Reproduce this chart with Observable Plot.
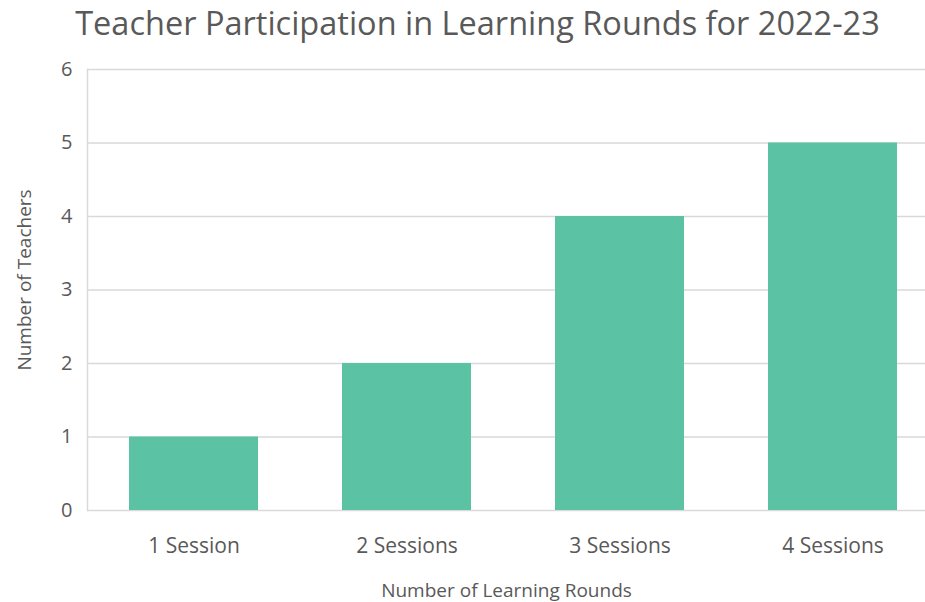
<!DOCTYPE html>
<html>
<head>
<meta charset="utf-8">
<script src="https://cdn.jsdelivr.net/npm/d3@7"></script>
<script src="https://cdn.jsdelivr.net/npm/@observablehq/plot@0.6"></script>
<style>
  html, body { margin: 0; padding: 0; background: #fff; }
  #title { height: 50px; line-height: 46px; text-align: center; font-family: "Open Sans", sans-serif; font-size: 32.5px; color: #595959; white-space: nowrap; width: 955px; }
</style>
</head>
<body>
<div id="title">Teacher Participation in Learning Rounds for 2022-23</div>
<div id="chart"></div>
<script>
const categories = ["1 Session", "2 Sessions", "3 Sessions", "4 Sessions"];
const teachers = [1, 2, 4, 5];
const yTicks = [0, 1, 2, 3, 4, 5, 6];
const xLabel = "Number of Learning Rounds";
const yLabel = "Number of Teachers";

const data = categories.map((c, i) => ({category: c, value: teachers[i]}));
const textColor = "#595959";

const chart = Plot.plot({
  width: 925,
  height: 552,
  marginLeft: 87,
  marginRight: 0,
  marginTop: 19,
  marginBottom: 92,
  style: {fontFamily: "'Open Sans', sans-serif", color: textColor, background: "#fff", overflow: "hidden"},
  x: {domain: categories, range: [87, 938], paddingInner: 0.395, paddingOuter: 0.192, label: null},
  y: {domain: [0, 6], label: null},
  marks: [
    Plot.gridY(yTicks, {stroke: "#d9d9d9", strokeOpacity: 1, strokeWidth: 1.5}),
    Plot.frame({anchor: "left", stroke: "#d9d9d9", strokeWidth: 1.5}),
    Plot.barY(data, {x: "category", y: "value", fill: "#5bc2a4"}),
    Plot.axisX({tickSize: 0, tickPadding: 28, fontSize: 21, fill: textColor, label: null}),
    Plot.axisY(yTicks, {tickSize: 0, tickPadding: 15, fontSize: 20, fill: textColor, label: null, tickFormat: d3.format("d")}),
    Plot.text([xLabel], {frameAnchor: "bottom", dy: 86, fontSize: 19, fill: textColor}),
    Plot.text([yLabel], {frameAnchor: "left", dx: -63, dy: -10, rotate: -90, textAnchor: "middle", fontSize: 19, fill: textColor})
  ]
});
document.getElementById("chart").appendChild(chart);
</script>
</body>
</html>
